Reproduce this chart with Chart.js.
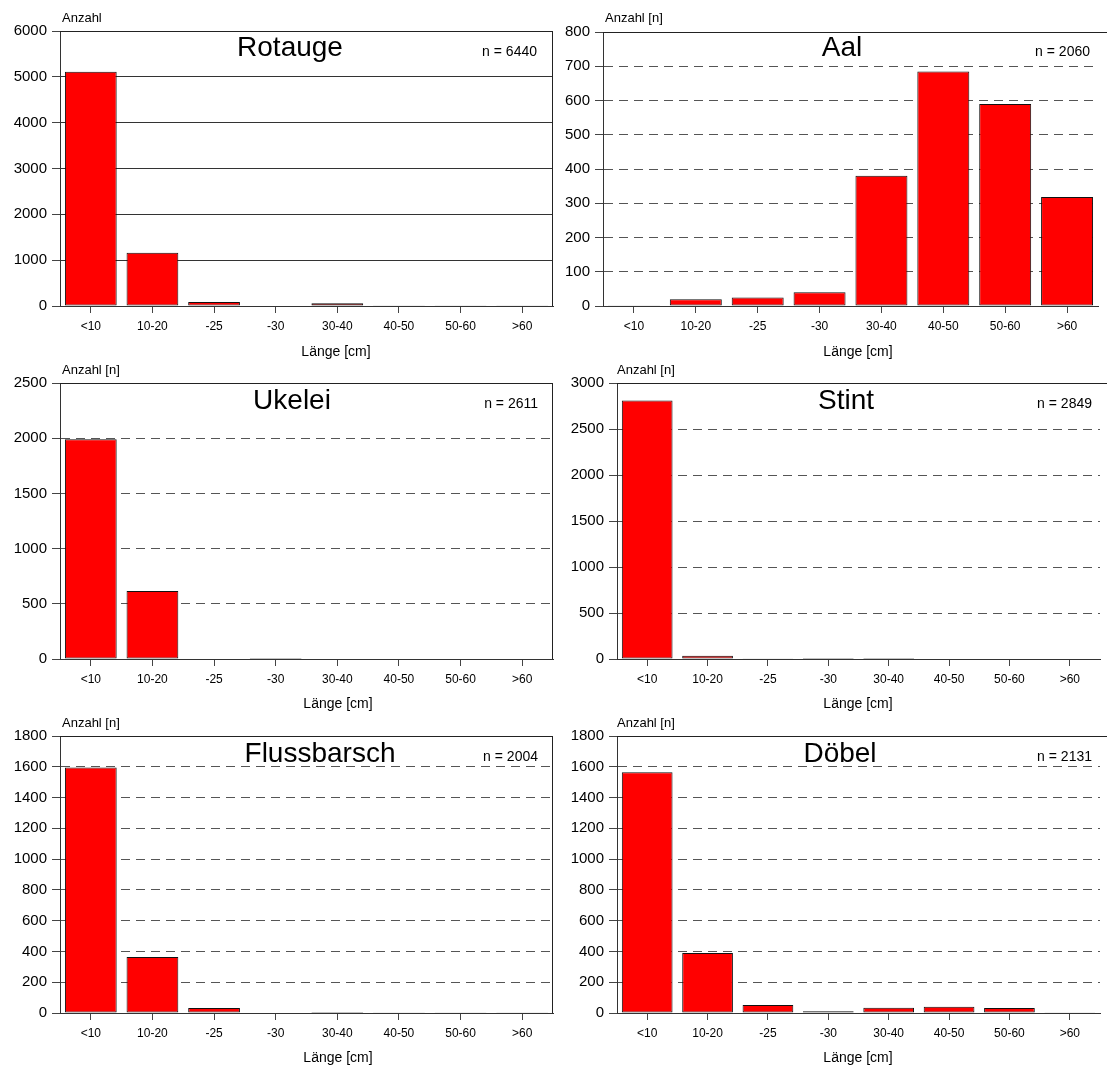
<!DOCTYPE html>
<html lang="de">
<head>
<meta charset="utf-8">
<title>Längenverteilung</title>
<script src="https://cdn.jsdelivr.net/npm/chart.js@4.4.1/dist/chart.umd.min.js"></script>
<style>
  html, body { margin: 0; padding: 0; background: #fff; }
  #wrap { position: relative; width: 1107px; height: 1066px; overflow: hidden; }
  #wrap canvas { position: absolute; }
</style>
</head>
<body>
<div id="wrap"></div>
<script>
// Längenklassen (x-Achse)
const klassen = ['<10', '10-20', '-25', '-30', '30-40', '40-50', '50-60', '>60'];

// Fangzahlen je Art und Längenklasse
const rotauge     = [5110, 1160, 85, 10, 60, 7, 4, 4];
const aal         = [2, 20, 25, 40, 380, 685, 590, 318];
const ukelei      = [1990, 615, 5, 1, 0, 0, 0, 0];
const stint       = [2810, 35, 2, 1, 1, 0, 0, 0];
const flussbarsch = [1595, 364, 32, 3, 6, 2, 1, 1];
const doebel      = [1565, 390, 52, 12, 34, 40, 33, 5];

const arten     = ['Rotauge', 'Aal', 'Ukelei', 'Stint', 'Flussbarsch', 'Döbel'];
const gesamtN   = [6440, 2060, 2611, 2849, 2004, 2131];
const yMax      = [6000, 800, 2500, 3000, 1800, 1800];
const ySchritt  = [1000, 100, 500, 500, 200, 200];
const yTitel    = ['Anzahl', 'Anzahl [n]', 'Anzahl [n]', 'Anzahl [n]', 'Anzahl [n]', 'Anzahl [n]'];
const reihen    = [rotauge, aal, ukelei, stint, flussbarsch, doebel];

const SCHRIFT = '"Liberation Sans", Arial, Helvetica, sans-serif';

// Lage der Teilbilder (Canvas-Box und Plotfläche, Seitenkoordinaten)
const felder = [
  { x0: 0,   y0: 0,   w: 560, h: 362, L: 60,  T: 31,  R: 553,  B: 306,  tx: 290, ty: 48,  nx: 537,  ny: 52,  ax: 62,  ay: 18,  lx: 336, ly: 352,  rahmenRechts: true,  gitterVoll: true },
  { x0: 560, y0: 0,   w: 547, h: 362, L: 603, T: 32,  R: 1098, B: 306,  tx: 842, ty: 48,  nx: 1090, ny: 52,  ax: 605, ay: 18,  lx: 858, ly: 352,  rahmenRechts: false, gitterVoll: false },
  { x0: 0,   y0: 362, w: 560, h: 356, L: 60,  T: 383, R: 553,  B: 659,  tx: 292, ty: 401, nx: 538,  ny: 404, ax: 62,  ay: 370, lx: 338, ly: 704,  rahmenRechts: true,  gitterVoll: false },
  { x0: 560, y0: 362, w: 547, h: 356, L: 617, T: 383, R: 1100, B: 659,  tx: 846, ty: 401, nx: 1092, ny: 404, ax: 617, ay: 370, lx: 858, ly: 704,  rahmenRechts: false, gitterVoll: false },
  { x0: 0,   y0: 718, w: 560, h: 348, L: 60,  T: 736, R: 553,  B: 1013, tx: 320, ty: 754, nx: 538,  ny: 757, ax: 62,  ay: 723, lx: 338, ly: 1058, rahmenRechts: true,  gitterVoll: false },
  { x0: 560, y0: 718, w: 547, h: 348, L: 617, T: 736, R: 1100, B: 1013, tx: 840, ty: 754, nx: 1092, ny: 757, ax: 617, ay: 723, lx: 858, ly: 1058, rahmenRechts: false, gitterVoll: false }
];

Chart.defaults.font.family = SCHRIFT;
Chart.defaults.color = '#000';

function text(ctx, s, x, y, groesse, ausrichtung) {
  ctx.font = groesse + 'px ' + SCHRIFT;
  ctx.fillStyle = '#000';
  ctx.textAlign = ausrichtung;
  ctx.textBaseline = 'middle';
  ctx.fillText(s, x, y);
}

const wrap = document.getElementById('wrap');

felder.forEach((f, i) => {
  const canvas = document.createElement('canvas');
  canvas.width = f.w;
  canvas.height = f.h;
  canvas.style.left = f.x0 + 'px';
  canvas.style.top = f.y0 + 'px';
  canvas.style.width = f.w + 'px';
  canvas.style.height = f.h + 'px';
  wrap.appendChild(canvas);

  // Rahmen oben/rechts und Beschriftungen
  const beschriftung = {
    id: 'beschriftung',
    afterDraw(chart) {
      const { ctx, chartArea: a } = chart;
      ctx.save();
      ctx.strokeStyle = '#222';
      ctx.lineWidth = 1;
      ctx.setLineDash([]);
      ctx.beginPath();
      ctx.moveTo(a.left, a.top + 0.5);
      ctx.lineTo(a.right + (f.rahmenRechts ? 0 : 10), a.top + 0.5);
      if (f.rahmenRechts) {
        ctx.moveTo(a.right - 0.5, a.top);
        ctx.lineTo(a.right - 0.5, a.bottom);
      }
      ctx.stroke();

      text(ctx, arten[i], f.tx - f.x0, f.ty - f.y0, 28, 'center');
      text(ctx, 'n = ' + gesamtN[i], f.nx - f.x0, f.ny - f.y0, 14, 'right');
      text(ctx, yTitel[i], f.ax - f.x0, f.ay - f.y0, 13, 'left');
      text(ctx, 'Länge [cm]', f.lx - f.x0, f.ly - f.y0, 14, 'center');
      ctx.restore();
    }
  };

  new Chart(canvas, {
    type: 'bar',
    data: {
      labels: klassen,
      datasets: [{
        label: arten[i],
        data: reihen[i],
        backgroundColor: '#ff0000',
        borderColor: '#111',
        borderWidth: 1,
        borderSkipped: false,
        barPercentage: 0.84,
        categoryPercentage: 1
      }]
    },
    options: {
      responsive: false,
      animation: false,
      devicePixelRatio: 1,
      layout: {
        padding: { top: f.T - f.y0, right: f.x0 + f.w - f.R, left: 0, bottom: 0 }
      },
      plugins: {
        legend: { display: false },
        title: { display: false },
        tooltip: { enabled: false }
      },
      scales: {
        x: {
          offset: true,
          grid: {
            offset: false,
            drawOnChartArea: false,
            drawTicks: true,
            tickLength: 7,
            tickColor: '#444'
          },
          border: { display: true, color: '#333', width: 1 },
          ticks: { font: { size: 12 }, padding: 6, maxRotation: 0, autoSkip: false },
          afterFit(scale) { scale.height = f.y0 + f.h - f.B; }
        },
        y: {
          min: 0,
          max: yMax[i],
          ticks: {
            stepSize: ySchritt[i],
            font: { size: 15 },
            padding: 5,
            callback: v => String(v)
          },
          grid: {
            color: ctx => (ctx.tick && (ctx.tick.value === 0 || ctx.tick.value === yMax[i])) ? 'rgba(0,0,0,0)' : (f.gitterVoll ? '#333' : '#555'),
            lineWidth: 1,
            tickLength: 8,
            tickColor: '#444'
          },
          border: { display: true, color: '#333', width: 1, dash: f.gitterVoll ? [] : [9, 6] },
          afterFit(scale) { scale.width = f.L - f.x0; }
        }
      }
    },
    plugins: [beschriftung]
  });
});
</script>
</body>
</html>
